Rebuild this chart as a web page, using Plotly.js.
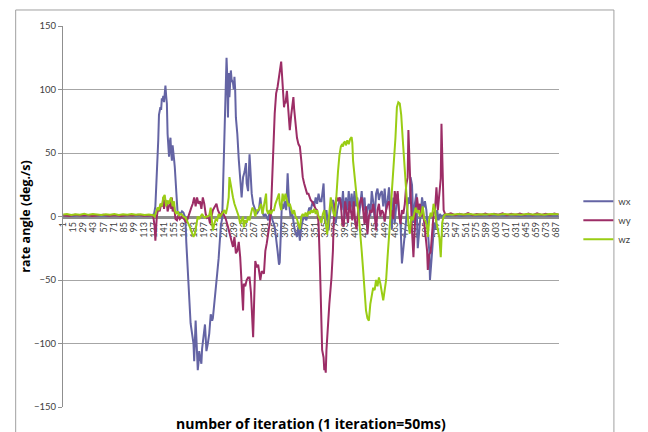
<!DOCTYPE html>
<html>
<head>
<meta charset="utf-8">
<script src="https://cdn.plot.ly/plotly-3.0.1.min.js"></script>
<style>
  html, body { margin: 0; padding: 0; background: #ffffff; }
  #chart { width: 648px; height: 432px; }
</style>
</head>
<body>
<div id="chart"></div>
<script>
// Gyro rate samples: [iteration, rate in deg./s]
const wxSamples = [
  [1,0.6],[8,1.0],[15,0.4],[22,0.9],[30,0.5],[38,1.1],[46,0.6],[54,0.8],[62,0.4],[70,1.0],[78,0.7],[86,0.5],[94,1.1],[102,0.6],[110,0.9],[118,0.5],[124,1.2],[127,1.5],
  [129,8],[131,30],[133,60],[134,80],[135,84],[136,86],[137,84],[138,93],[139,91],[140,95],[141,90],[142,98],[143,103],[144,95],[145,89],[146,65],[147,55],[148,47],[149,58],[150,62],[151,50],[152,44],[153,56],[154,52],[155,45],[156,39],[157,30],[158,20],[159,4],[160,2],[162,3],[164,2],[166,4],[168,3],
  [170,0],[171,-5],[172,-20],[174,-45],[176,-69],[178,-84],[180,-92],[182,-100],[183,-114],[184,-95],[185,-82],[186,-95],[187,-108],[188,-121],[189,-115],[190,-106],[191,-110],[193,-116],[194,-104],[195,-98],[197,-90],[198,-85],[199,-95],[200,-106],[202,-100],[204,-92],[206,-77],[208,-82],[209,-80],[211,-70],[212,-64],[214,-55],[215,-45],[217,-33],[218,-24],[220,-8],[222,-1],
  [223,20],[224,52],[226,85],[227,105],[228,125],[229,110],[230,78],[231,113],[232,94],[234,115],[235,108],[237,105],[238,100],[239,110],[240,100],[241,78],[243,65],[245,45],[247,26],[249,15],[251,31],[253,35],[255,42],[256,26],[258,20],[259,42],[260,49],[261,39],[263,18],[265,10],[267,7],[270,2],[273,5],[275,15],[277,5],[280,0],[282,2],[284,0],[286,-3],[288,5],[290,0],[292,-3],[295,-8],[297,-16],[299,-27],[301,-38],[302,-36],[303,-21],[305,10],[307,6],[309,12],[311,5],[313,34],[315,10],[317,0],[319,4],[321,-5],[323,-11],[326,-16],[328,-8],[330,-19],[332,-8],[334,-3],[336,0],[339,-3],[341,2],[343,7],[345,5],[348,12],[350,8],[352,15],[354,10],[356,18],[358,12],[360,12],[363,26],[365,-5],[367,5],[370,-11],[372,2],[374,10],[376,13],[378,5],[380,-5],[382,5],[384,10],[386,15],[388,5],[390,20],[392,-2],[394,15],[396,5],[398,20],[400,3],[402,18],[404,5],[406,20],[408,8],[410,15],[412,-2],[414,12],[416,20],[418,5],[420,15],[422,-5],[424,7],[426,10],[428,0],[430,20],[432,12],[434,-2],[436,18],[438,22],[440,13],[442,18],[444,20],[446,8],[448,22],[450,5],[452,12],[454,23],[456,7],[458,-10],[460,15],[462,-5],[464,8],[466,18],[468,3],[470,-5],[472,-37],[474,-24],[477,-5],[479,5],[481,15],[483,10],[484,31],[486,25],[488,-5],[490,10],[492,18],[494,-25],[496,-10],[498,7],[500,15],[502,7],[504,12],[506,5],[508,-16],[510,-27],[511,-50],[513,-32],[515,-16],[517,-5],[519,-10],[521,5],[523,-3],[525,2],[527,0],[529,1],[531,1.5],
  [535,0.5],[545,0.9],[555,0.4],[565,1],[575,0.6],[585,0.8],[595,0.5],[605,1],[615,0.6],[625,0.9],[635,0.4],[645,0.8],[655,0.6],[665,1],[675,0.5],[685,0.8],[690,0.6]
];

const wySamples = [
  [1,1],[9,0.5],[17,1.3],[25,0.7],[33,1.2],[41,0.4],[49,1],[57,1.4],[65,0.6],[73,1.1],[81,0.5],[89,1.2],[97,0.8],[105,1.3],[113,0.6],[120,1],[126,0.5],
  [128,-8],[129,-19],[130,-10],[131,0],[133,7],[135,4],[137,10],[139,8],[140,15],[141,6],[143,13],[145,10],[146,4],[148,8],[150,12.6],[151,6],[152,15],[153,4],[155,8],[157,-2],[159,-3],[161,1],[163,-2],[166,0],[169,-2],[172,-5],[174,-1],[177,3],[179,7],[181,10],[183,15],[185,8],[187,15],[189,10],[191,12],[193,6],[195,15],[197,10],[199,2],[201,-1],[203,0],[205,-5.5],[207,0],[209,5],[211,7],[214,10],[216,5],[218,2],[220,0],[222,4],[225,0],[227,-2],
  [230,-8],[233,-16],[235,-20],[237,-24],[239,-16],[241,-29],[243,-27],[245,-20],[247,-32],[249,-58],[251,-74],[252,-53],[254,-55],[256,-50],[258,-48],[260,-48],[262,-60],[265,-95],[266,-80],[268,-35],[270,-40],[272,-38],[275,-50],[277,-43],[280,-45],[282,-27],[284,-21],[286,-14],[288,-5.5],
  [290,7],[292,40],[293,52],[295,81],[297,97],[299,102],[301,110],[303,116],[304,122],[306,104],[308,86],[309,90],[310,89],[312,99],[314,83],[316,68],[318,80],[320,92],[321,94],[322,85],[324,70],[326,62],[328,57],[330,55],[332,44],[334,31],[336,26],[338,21],[340,18],[342,18],[345,13],[348,11],[350,8],[352,6],[354,5],[356,-5],
  [358,-40],[359,-60],[360,-80],[361,-105],[363,-111],[364,-121],[365,-118],[366,-123],[367,-105],[369,-85],[371,-69],[374,-48],[376,-27],[377,-5],
  [379,10],[381,15],[383,12],[385,15],[387,10],[389,-5],[391,-8],[393,12],[395,5],[397,-5],[399,12],[401,6],[403,-3],[405,12],[407,-5],[409,-10],[411,5],[414,12],[416,15],[418,5],[420,-6],[422,8],[424,-14],[426,0],[428,5],[430,3],[432,10],[434,2],[436,-11],[438,5],[440,10],[442,0],[444,5],[446,3],[448,-4],[450,5],[452,10],[454,12],[456,0],[458,5],[460,-2],[462,20],[464,10],[466,20],[468,2],[470,-6],[472,5],[474,2],[476,10],[478,25],[480,31],[481,68],[482,52],[484,7],[486,-11],[488,-32],[489,-20],[491,5],[493,15],[495,5],[497,10],[499,0],[501,6],[503,-5],[505,-14],[507,-27],[508,-42],[510,-30],[512,-28],[514,-10],[516,2],[518,5],[520,23],[522,5],[524,20],[526,30],[527,73],[528,40],[529,20],[530,5],[532,2],
  [534,1.5],[540,2.5],[546,1],[552,2.2],[558,1.2],[564,2.6],[570,1.1],[576,2],[582,1.3],[588,2.4],[594,1],[600,2.2],[606,1.4],[612,2.5],[618,1.1],[624,2.1],[630,1.3],[636,2.4],[642,1.2],[648,2.3],[654,1.1],[660,2.5],[666,1.3],[672,2.2],[678,1.2],[684,2.4],[690,1.5]
];

const wzSamples = [
  [1,1.5],[6,2],[12,1.2],[18,1.8],[24,1.4],[30,2.1],[36,1.3],[42,1.9],[48,1.5],[54,1.1],[60,1.8],[66,1.4],[72,2],[78,1.2],[84,1.7],[90,1.3],[96,1.9],[102,1.4],[108,1.8],[114,1.2],[120,1.6],[126,1],
  [128,0],[130,3],[132,7],[134,5],[136,10],[138,8],[140,15],[142,17],[143,12],[144,8],[146,12.6],[148,10],[150,14],[151,15],[153,8],[155,12],[156,5],[158,2],[160,4],[162,1],[165,2],[168,0],[171,-1],[173,-3],[175,-5.8],[177,-8.4],[179,-11],[181,-14],[182,-16],[184,-13.6],[186,-5],[188,0],[190,-2],[192,0],[194,2],[196,0],[198,-1],[200,0],[202,0],[204,1],[206,7],[208,-5.5],[209,-11],[211,-6],[213,-2],[215,-3],[217,2],[219,0],[221,2],[223,4],[225,5],[227,2],[229,7],[231,15],[232,31],[233,28],[235,20],[237,15],[239,10],[241,7],[243,4],[245,0],[247,-5.8],[249,-2],[251,0],[252,-8.4],[254,-3],[256,-5],[258,0],[260,-3],[262,2],[264,7],[266,5],[268,0],[270,5],[272,5],[274,7],[276,10],[278,2],[280,10],[282,15],[283,18],[284,5],[286,2],[288,5],[290,2],[292,5],[294,5],[296,10],[299,15],[301,18],[302,10],[304,5],[306,18],[308,12],[310,18],[312,14],[314,8],[316,10],[318,5],[320,2],[322,5],[324,0],[326,-2],[328,-6],[330,-10],[332,0],[334,2],[336,0],[338,3],[340,0],[342,4],[344,2],[346,5],[348,3],[350,6],[352,2],[354,5],[356,0],[358,-3],[360,-5],[362,2],[364,5],[366,-5],[368,-14],[370,-3],[372,8],[373,15],[375,8],[377,2],[379,0],
  [381,20],[383,35],[385,48],[387,55],[389,57],[390,55],[391,58],[393,59],[394,56],[396,60],[398,57],[400,61],[402,62.6],[403,58],[404,44],[406,31],[408,20],[410,10],[412,0],[414,-11],[416,-27],[418,-42],[420,-61],[422,-74],[424,-80],[426,-82],[428,-69],[430,-61],[432,-56],[434,-58],[436,-50],[438,-55],[440,-48],[442,-53],[444,-60],[446,-66],[448,-58],[450,-50],[452,-32],[454,-18],[456,0],[458,20],[460,35],[461,42],[463,62],[465,86],[467,90],[469,89],[471,80],[473,62],[475,45],[477,26],[479,7],[481,-5.8],[483,-13.6],[485,0],[487,-3],[489,3],[491,7],[493,3],[495,5],[497,0],[499,2],[501,8],[503,-2],[505,-4],[507,-8],[508,-16],[510,-2],[512,3],[514,0],[516,10],[518,5],[520,-5],[522,-10],[524,-16],[526,-32],[527,-20],[528,-5],[530,0],[532,1.5],
  [534,1.8],[542,1.4],[550,2],[558,1.5],[566,1.9],[574,1.3],[582,1.8],[590,1.5],[598,2],[606,1.4],[614,1.9],[622,1.5],[630,1.8],[638,1.3],[646,2],[654,1.5],[662,1.8],[670,1.4],[678,1.9],[686,1.5],[690,1.7]
];

// Category labels along the iteration axis
const iterTicks = [1,15,29,43,57,71,85,99,113,127,141,155,169,183,197,211,225,239,253,267,281,295,309,323,337,351,365,379,393,407,421,435,449,463,477,491,505,519,533,547,561,575,589,603,617,631,645,659,673,687];
const seriesNames = ['wx', 'wy', 'wz'];
const seriesColors = ['#6464a4', '#9c2d66', '#9acd14'];

const allSamples = [wxSamples, wySamples, wzSamples];
const traces = allSamples.map((s, i) => ({
  type: 'scatter',
  mode: 'lines',
  name: seriesNames[i],
  x: s.map(p => p[0]),
  y: s.map(p => p[1]),
  line: { color: seriesColors[i], width: 2 }
}));

const font = "Lato, 'Liberation Sans', sans-serif";
const titleFont = "'Open Sans', Lato, sans-serif";

const layout = {
  width: 648,
  height: 432,
  margin: { l: 63, r: 61, t: 26, b: 25 },
  paper_bgcolor: '#ffffff',
  plot_bgcolor: '#ffffff',
  font: { family: font, color: '#404040' },
  showlegend: true,
  legend: {
    x: 1.039, y: 0.49, xanchor: 'left', yanchor: 'middle',
    font: { family: font, size: 9.5, color: '#404040' },
    bgcolor: 'rgba(0,0,0,0)', tracegroupgap: 0
  },
  xaxis: {
    range: [0.5, 690.5],
    anchor: 'free',
    position: 0.5,
    showline: true,
    linecolor: '#8c8c8c',
    linewidth: 3,
    showgrid: false,
    zeroline: false,
    ticks: '',
    tickmode: 'array',
    tickvals: iterTicks,
    ticktext: iterTicks.map(String),
    tickangle: -90,
    tickfont: { family: font, size: 9, color: '#404040' },
    layer: 'below traces'
  },
  yaxis: {
    range: [-150, 150],
    tick0: 0,
    dtick: 50,
    showgrid: true,
    gridcolor: '#a6a6a6',
    gridwidth: 1,
    showline: true,
    linecolor: '#8f8f8f',
    linewidth: 1,
    ticks: 'outside',
    ticklen: 4,
    tickcolor: '#8f8f8f',
    zeroline: false,
    tickfont: { family: font, size: 9.5, color: '#404040' },
    title: {
      text: 'rate angle (deg./s)',
      font: { family: titleFont, size: 12.5, color: '#000000', weight: 'bold' },
      standoff: 0
    }
  },
  annotations: [{
    text: 'number of iteration (1 iteration=50ms)',
    xref: 'paper', yref: 'paper',
    x: 0.5, y: -0.042,
    xanchor: 'center', yanchor: 'middle',
    showarrow: false,
    font: { family: titleFont, size: 14, color: '#000000', weight: 'bold' }
  }],
  shapes: [{
    type: 'rect', xref: 'paper', yref: 'paper',
    x0: -0.0954, x1: 1.1107, y0: -0.2, y1: 1.042,
    line: { color: '#a0a0a0', width: 1 },
    fillcolor: 'rgba(0,0,0,0)',
    layer: 'below'
  }]
};

Plotly.newPlot('chart', traces, layout, { staticPlot: true, displayModeBar: false });
</script>
</body>
</html>
